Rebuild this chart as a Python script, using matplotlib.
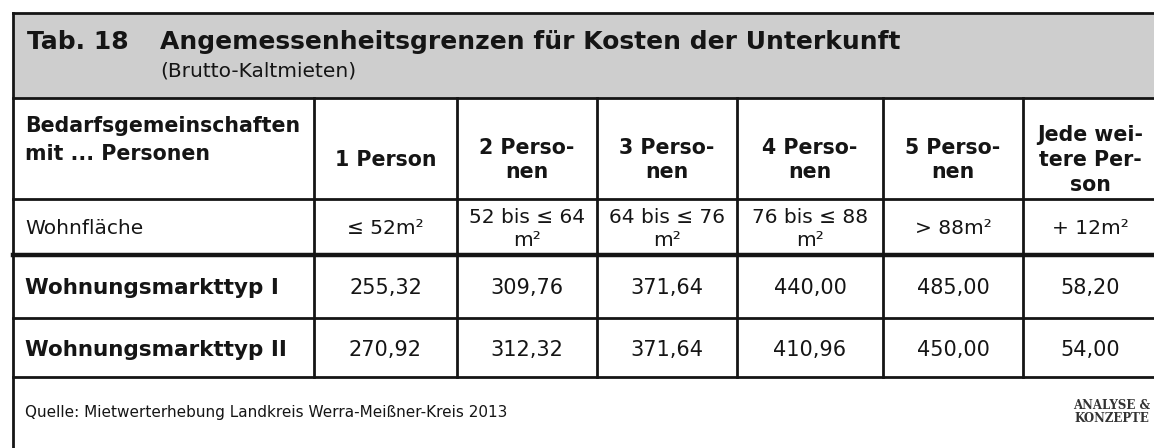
import matplotlib.pyplot as plt

# Tabellendaten
kopf_links = 'Bedarfsgemeinschaften\nmit ... Personen'
personen = ['1 Person', '2 Perso-\nnen', '3 Perso-\nnen', '4 Perso-\nnen',
            '5 Perso-\nnen', 'Jede wei-\ntere Per-\nson']
flaeche_label = 'Wohnfläche'
flaeche = ['≤ 52m²', '52 bis ≤ 64\nm²', '64 bis ≤ 76\nm²', '76 bis ≤ 88\nm²',
           '> 88m²', '+ 12m²']
typ_namen = ['Wohnungsmarkttyp I', 'Wohnungsmarkttyp II']
typ1 = [255.32, 309.76, 371.64, 440.00, 485.00, 58.20]
typ2 = [270.92, 312.32, 371.64, 410.96, 450.00, 54.00]

titel_nr = 'Tab. 18'
titel = 'Angemessenheitsgrenzen für Kosten der Unterkunft'
untertitel = '(Brutto-Kaltmieten)'
quelle = 'Quelle: Mietwerterhebung Landkreis Werra-Meißner-Kreis 2013'
logo = 'ANALYSE &\nKONZEPTE'

# Layout in Pixeln (Bild 1154 x 448)
W, H = 1154, 448
spalten = [13, 314, 457, 597, 737, 883, 1023, 1157]
zeilen = [13, 98, 199, 255, 318, 377, 470]

fig = plt.figure(figsize=(W / 100, H / 100), dpi=100)
ax = fig.add_axes([0, 0, 1, 1])
ax.set_xlim(0, W)
ax.set_ylim(H, 0)
ax.axis('off')

FONT = 'DejaVu Sans'
SCHWARZ = '#151515'


def zahl(v):
    return f'{v:.2f}'.replace('.', ',')


# Titelbalken
ax.add_patch(plt.Rectangle((spalten[0], zeilen[0]), W - spalten[0],
                           zeilen[1] - zeilen[0], facecolor='#cecece', edgecolor='none'))
ax.text(27, 42, titel_nr, fontsize=18, fontweight='bold', family=FONT,
        color=SCHWARZ, va='center', ha='left')
ax.text(160, 42, titel, fontsize=18, fontweight='bold', family=FONT,
        color=SCHWARZ, va='center', ha='left')
ax.text(160, 71, untertitel, fontsize=14.5, family=FONT, color=SCHWARZ,
        va='center', ha='left')

# Linien
lw = 2.0
ax.plot([spalten[0], spalten[0]], [zeilen[0], H], color=SCHWARZ, lw=lw)
ax.plot([spalten[0], W], [zeilen[0], zeilen[0]], color=SCHWARZ, lw=lw)
for i, y in enumerate(zeilen[1:6]):
    ax.plot([spalten[0], W], [y, y], color=SCHWARZ,
            lw=3.2 if i == 2 else lw)
for x in spalten[1:-1]:
    ax.plot([x, x], [zeilen[1], zeilen[5]], color=SCHWARZ, lw=lw)

mitten = [(spalten[i] + spalten[i + 1]) / 2 for i in range(1, 7)]

# Kopfzeile
ax.text(25, 140, kopf_links, fontsize=14.8, fontweight='bold', family=FONT,
        color=SCHWARZ, ha='left', va='center', linespacing=1.45)
for x, t in zip(mitten, personen):
    ax.text(x, 160, t, fontsize=14.8, fontweight='bold', family=FONT,
            color=SCHWARZ, ha='center', va='center', linespacing=1.3)

# Wohnfläche
ax.text(25, 229, flaeche_label, fontsize=14.5, family=FONT, color=SCHWARZ,
        ha='left', va='center')
for x, t in zip(mitten, flaeche):
    ax.text(x, 229, t, fontsize=14.5, family=FONT, color=SCHWARZ,
            ha='center', va='center', linespacing=1.3)

# Werte
for r, (name, werte) in enumerate(zip(typ_namen, [typ1, typ2])):
    y = (zeilen[3 + r] + zeilen[4 + r]) / 2 + 2
    ax.text(25, y, name, fontsize=15.5, fontweight='bold', family=FONT,
            color=SCHWARZ, ha='left', va='center')
    for x, v in zip(mitten, werte):
        ax.text(x, y, zahl(v), fontsize=15, family=FONT, color=SCHWARZ,
                ha='center', va='center')

# Fußzeile
ax.text(25, 413, quelle, fontsize=11, family=FONT, color=SCHWARZ,
        ha='left', va='center')
ax.text(1112, 412, logo, fontsize=8.5, fontweight='bold', family='DejaVu Serif',
        color='#333333', ha='center', va='center', linespacing=1.0)

fig.savefig('out.png', dpi=100)
